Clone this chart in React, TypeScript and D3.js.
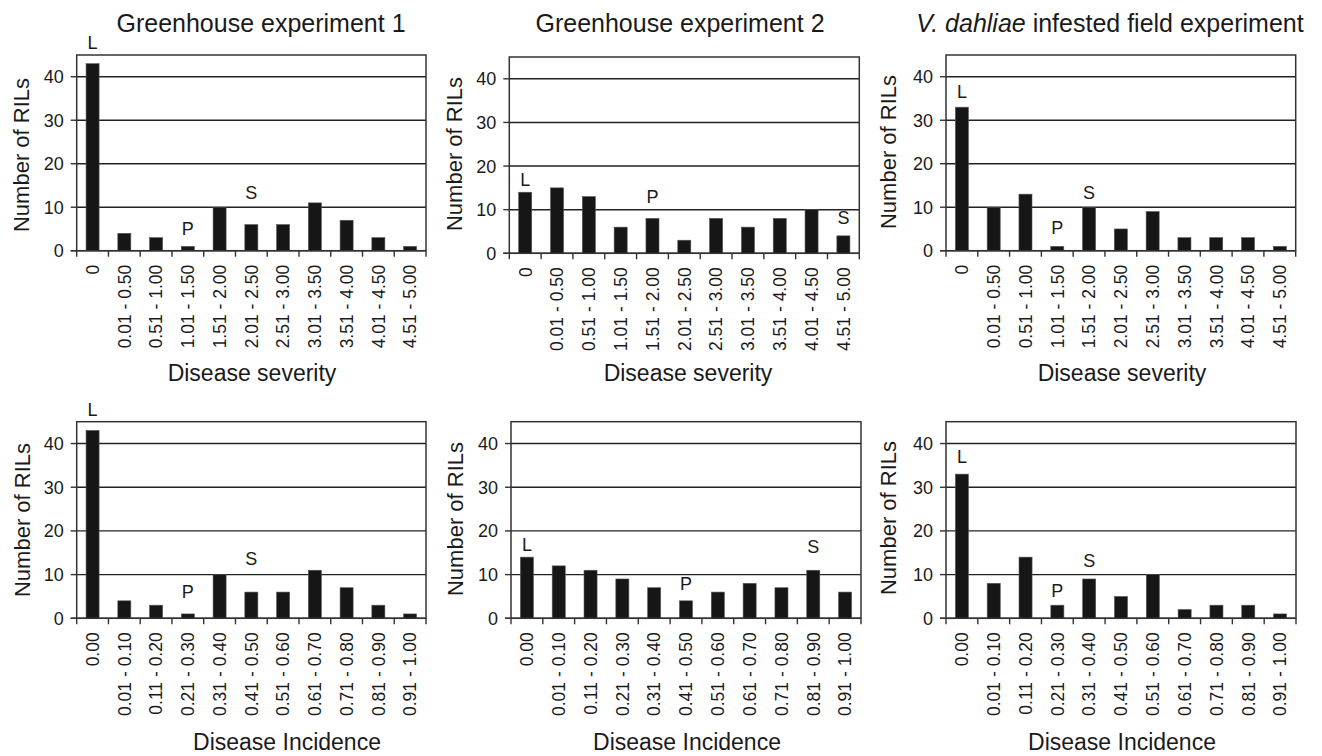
import React from "react";
import * as d3 from "d3";

const severityCategories = ["0", "0.01 - 0.50", "0.51 - 1.00", "1.01 - 1.50", "1.51 - 2.00", "2.01 - 2.50", "2.51 - 3.00", "3.01 - 3.50", "3.51 - 4.00", "4.01 - 4.50", "4.51 - 5.00"];
const incidenceCategories = ["0.00", "0.01 - 0.10", "0.11 - 0.20", "0.21 - 0.30", "0.31 - 0.40", "0.41 - 0.50", "0.51 - 0.60", "0.61 - 0.70", "0.71 - 0.80", "0.81 - 0.90", "0.91 - 1.00"];
const yTicks = [0, 10, 20, 30, 40];
const yMax = 45;

const gh1Severity = [43, 4, 3, 1, 10, 6, 6, 11, 7, 3, 1];
const gh2Severity = [14, 15, 13, 6, 8, 3, 8, 6, 8, 10, 4];
const fieldSeverity = [33, 10, 13, 1, 10, 5, 9, 3, 3, 3, 1];
const gh1Incidence = [43, 4, 3, 1, 10, 6, 6, 11, 7, 3, 1];
const gh2Incidence = [14, 12, 11, 9, 7, 4, 6, 8, 7, 11, 6];
const fieldIncidence = [33, 8, 14, 3, 9, 5, 10, 2, 3, 3, 1];

// parent-line markers: [label, category index, label height in counts]
const gh1SeverityMarks: [string, number, number][] = [["L", 0, 47.8], ["P", 3, 5.2], ["S", 5, 13.3]];
const gh2SeverityMarks: [string, number, number][] = [["L", 0, 16.8], ["P", 4, 13], ["S", 10, 8.1]];
const fieldSeverityMarks: [string, number, number][] = [["L", 0, 36.6], ["P", 3, 5.3], ["S", 4, 13.3]];
const gh1IncidenceMarks: [string, number, number][] = [["L", 0, 47.8], ["P", 3, 6.1], ["S", 5, 13.7]];
const gh2IncidenceMarks: [string, number, number][] = [["L", 0, 17], ["P", 5, 8], ["S", 9, 16.4]];
const fieldIncidenceMarks: [string, number, number][] = [["L", 0, 37.1], ["P", 3, 6.3], ["S", 4, 13.3]];

const FONT = "'Liberation Sans', Arial, Helvetica, sans-serif";
const TXT = "#1a1a1a";

type PanelCfg = {
  values: number[];
  cats: string[];
  marks: [string, number, number][];
  title: string | null;
  italic?: boolean;
  titleX: number;
  xTitle: string;
  xTitleX: number;
  xTitleY: number;
  yTitleX: number;
  yTitleY: number;
  x0: number; x1: number; yTop: number; yZero: number;
};

const panels: PanelCfg[] = [
  { values: gh1Severity, cats: severityCategories, marks: gh1SeverityMarks, title: "Greenhouse experiment 1", titleX: 261, xTitle: "Disease severity", xTitleX: 252, xTitleY: 381, yTitleX: 21, yTitleY: 155, x0: 76.7, x1: 426, yTop: 55, yZero: 250.7 },
  { values: gh2Severity, cats: severityCategories, marks: gh2SeverityMarks, title: "Greenhouse experiment 2", titleX: 680, xTitle: "Disease severity", xTitleX: 688, xTitleY: 381, yTitleX: 454, yTitleY: 154, x0: 509.3, x1: 859.3, yTop: 57, yZero: 253.3 },
  { values: fieldSeverity, cats: severityCategories, marks: fieldSeverityMarks, title: "field", italic: true, titleX: 1110, xTitle: "Disease severity", xTitleX: 1122, xTitleY: 381, yTitleX: 888, yTitleY: 152, x0: 946, x1: 1295.7, yTop: 55, yZero: 250.7 },
  { values: gh1Incidence, cats: incidenceCategories, marks: gh1IncidenceMarks, title: null, titleX: 0, xTitle: "Disease Incidence", xTitleX: 287, xTitleY: 750, yTitleX: 22, yTitleY: 520, x0: 76.7, x1: 426, yTop: 421.7, yZero: 618.3 },
  { values: gh2Incidence, cats: incidenceCategories, marks: gh2IncidenceMarks, title: null, titleX: 0, xTitle: "Disease Incidence", xTitleX: 687, xTitleY: 750, yTitleX: 455, yTitleY: 519, x0: 511, x1: 861, yTop: 421.7, yZero: 618.3 },
  { values: fieldIncidence, cats: incidenceCategories, marks: fieldIncidenceMarks, title: null, titleX: 0, xTitle: "Disease Incidence", xTitleX: 1122, xTitleY: 750, yTitleX: 888, yTitleY: 518, x0: 946, x1: 1296, yTop: 421.7, yZero: 618.3 },
];

function Panel({ p }: { p: PanelCfg }) {
  const x = d3.scaleBand<string>().domain(p.cats).range([p.x0, p.x1]).padding(0);
  const y = d3.scaleLinear().domain([0, yMax]).range([p.yZero, p.yTop]);
  const bw = x.bandwidth();
  const barW = bw * 0.41;
  const boundaries = d3.range(p.cats.length + 1).map((i) => p.x0 + i * bw);
  return (
    <g>
      {p.title && !p.italic && (
        <text x={p.titleX} y={32} textAnchor="middle" fontSize={25} fill={TXT}>{p.title}</text>
      )}
      {p.title && p.italic && (
        <text x={p.titleX} y={32} textAnchor="middle" fontSize={25} fill={TXT}>
          <tspan fontStyle="italic">V. dahliae</tspan>
          <tspan> infested field experiment</tspan>
        </text>
      )}
      {/* gridlines */}
      {yTicks.filter((t) => t > 0).map((t) => (
        <line key={t} x1={p.x0} x2={p.x1} y1={y(t)} y2={y(t)} stroke="#222" strokeWidth={1.4} />
      ))}
      {/* frame */}
      <rect x={p.x0} y={p.yTop} width={p.x1 - p.x0} height={p.yZero - p.yTop} fill="none" stroke="#333" strokeWidth={1.5} />
      {/* bars */}
      {p.values.map((v, i) => {
        const cx = (x(p.cats[i]) as number) + bw / 2;
        return (
          <rect key={i} x={cx - barW / 2} y={y(v)} width={barW} height={p.yZero - y(v)} fill="#161616" stroke="#555" strokeWidth={0.6} />
        );
      })}
      {/* x axis line */}
      <line x1={p.x0 - 6} x2={p.x1} y1={p.yZero} y2={p.yZero} stroke="#333" strokeWidth={1.6} />
      {boundaries.map((bx, i) => (
        <line key={i} x1={bx} x2={bx} y1={p.yZero} y2={p.yZero + 6} stroke="#333" strokeWidth={1.4} />
      ))}
      {/* y ticks */}
      {yTicks.map((t) => (
        <g key={t}>
          <line x1={p.x0 - 6} x2={p.x0} y1={y(t)} y2={y(t)} stroke="#333" strokeWidth={1.4} />
          <text x={p.x0 - 13} y={y(t)} dy="0.36em" textAnchor="end" fontSize={18} fill={TXT}>{t}</text>
        </g>
      ))}
      {/* x tick labels */}
      {p.cats.map((c) => {
        const cx = (x(c) as number) + bw / 2;
        return (
          <text key={c} transform={`translate(${cx},${p.yZero + 14}) rotate(-90)`} dy="0.36em" textAnchor="end" fontSize={17.5} fill={TXT}>{c}</text>
        );
      })}
      {/* markers */}
      {p.marks.map(([lab, idx, h]) => {
        const cx = (x(p.cats[idx]) as number) + bw / 2;
        return (
          <text key={lab} x={cx} y={y(h)} dy="0.36em" textAnchor="middle" fontSize={18} fill={TXT}>{lab}</text>
        );
      })}
      {/* axis titles */}
      <text x={p.xTitleX} y={p.xTitleY} textAnchor="middle" fontSize={23} fill={TXT}>{p.xTitle}</text>
      <text transform={`translate(${p.yTitleX},${p.yTitleY}) rotate(-90)`} dy="0.36em" textAnchor="middle" fontSize={22} fill={TXT}>Number of RILs</text>
    </g>
  );
}

export default function App() {
  return (
    <svg width={1322} height={756} style={{ position: "absolute", left: 0, top: 0, background: "#fff", fontFamily: FONT }}>
      <rect width={1322} height={756} fill="#fff" />
      {panels.map((p, i) => (
        <Panel key={i} p={p} />
      ))}
    </svg>
  );
}
